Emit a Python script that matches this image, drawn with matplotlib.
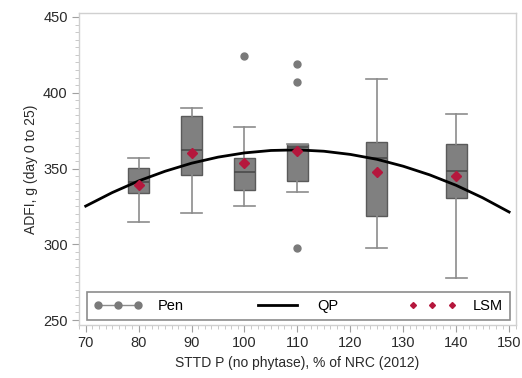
import numpy as np
import matplotlib
matplotlib.use("Agg")
import matplotlib.pyplot as plt
from matplotlib.ticker import MultipleLocator, AutoMinorLocator
from matplotlib.lines import Line2D

plt.rcParams['font.family'] = ['Liberation Sans', 'DejaVu Sans']

# STTD P levels, % of NRC (2012)
levels = [80, 90, 100, 110, 125, 140]

# box plot summaries (ADFI, g)
whislo = [315, 320.5, 325, 334.5, 297.5, 277.5]
q1 = [334, 345.5, 335.5, 341.5, 318.5, 330.5]
med = [341, 362, 347.5, 364, 357, 348.5]
q3 = [350.5, 384.5, 357, 366.5, 367.5, 366.5]
whishi = [357, 390, 377.5, 366.5, 409, 386]
fliers = [[], [], [424], [419, 407, 297.5], [], []]

# least squares means
lsm = [339, 360.5, 353.5, 361.5, 348, 345]

# QP curve
qp_x = [70, 75, 80, 85, 90, 95, 100, 105, 110, 115, 120, 125, 130, 135, 140, 145, 150]
qp_y = [325.2, 334.1, 341.8, 348.2, 353.5, 357.5, 360.3, 361.9, 362.3, 361.4,
        359.3, 356.1, 351.5, 345.8, 338.9, 330.7, 321.3]

stats = []
for i in range(len(levels)):
    stats.append({'whislo': whislo[i], 'q1': q1[i], 'med': med[i], 'q3': q3[i],
                  'whishi': whishi[i], 'fliers': fliers[i]})

fig = plt.figure(figsize=(5.22, 3.78), dpi=100)
ax = fig.add_axes([0.151, 0.140, 0.8375, 0.8256])

boxcol = '#808080'
edgecol = '#5a5a5a'
whiskcol = '#8c8c8c'
red = '#b5173d'

ax.bxp(stats, positions=levels, widths=4, patch_artist=True, manage_ticks=False,
       boxprops=dict(facecolor=boxcol, edgecolor=edgecol, linewidth=1),
       medianprops=dict(color='#4a4a4a', linewidth=1.2),
       whiskerprops=dict(color=whiskcol, linewidth=1.2),
       capprops=dict(color=whiskcol, linewidth=1.2),
       capwidths=4,
       flierprops=dict(marker='o', markerfacecolor='#7a7a7a', markeredgecolor='#7a7a7a',
                       markersize=5))

ax.plot(qp_x, qp_y, color='black', linewidth=2, zorder=4)
ax.plot(levels, lsm, linestyle='none', marker='D', color=red, markersize=5, zorder=5)

ax.set_xlim(68.7, 151.3)
ax.set_ylim(246.7, 452.6)
ax.xaxis.set_major_locator(MultipleLocator(10))
ax.xaxis.set_minor_locator(AutoMinorLocator(8))
ax.yaxis.set_major_locator(MultipleLocator(50))
ax.yaxis.set_minor_locator(MultipleLocator(5))

for s in ax.spines.values():
    s.set_color('#d0d0d0')
    s.set_linewidth(1)
ax.tick_params(which='major', length=5, color='#a0a0a0', labelsize=10.5,
               labelcolor='#2a2a2a', pad=3)
ax.tick_params(which='minor', length=3, color='#c0c0c0')

ax.set_xlabel('STTD P (no phytase), % of NRC (2012)', fontsize=10, color='#2a2a2a')
ax.set_ylabel('ADFI, g (day 0 to 25)', fontsize=10, color='#2a2a2a')

handles = [
    Line2D([], [], color='#8c8c8c', marker='o', markerfacecolor='#7a7a7a',
           markeredgecolor='#7a7a7a', markersize=5, linewidth=1),
    Line2D([], [], color='black', linewidth=2),
    Line2D([], [], color=red, marker='D', linestyle='none', markersize=3),
]
leg = ax.legend(handles, ['Pen', 'QP', 'LSM'], loc='lower left',
                bbox_to_anchor=(0.018, 0.016, 0.968, 0.0), mode='expand', ncol=3,
                numpoints=3, handlelength=3.3, handletextpad=1.1, fontsize=10.5,
                borderaxespad=0, fancybox=False, edgecolor='#707070', borderpad=0.5)
leg.get_frame().set_linewidth(1.2)

fig.savefig('out.png', dpi=100)
